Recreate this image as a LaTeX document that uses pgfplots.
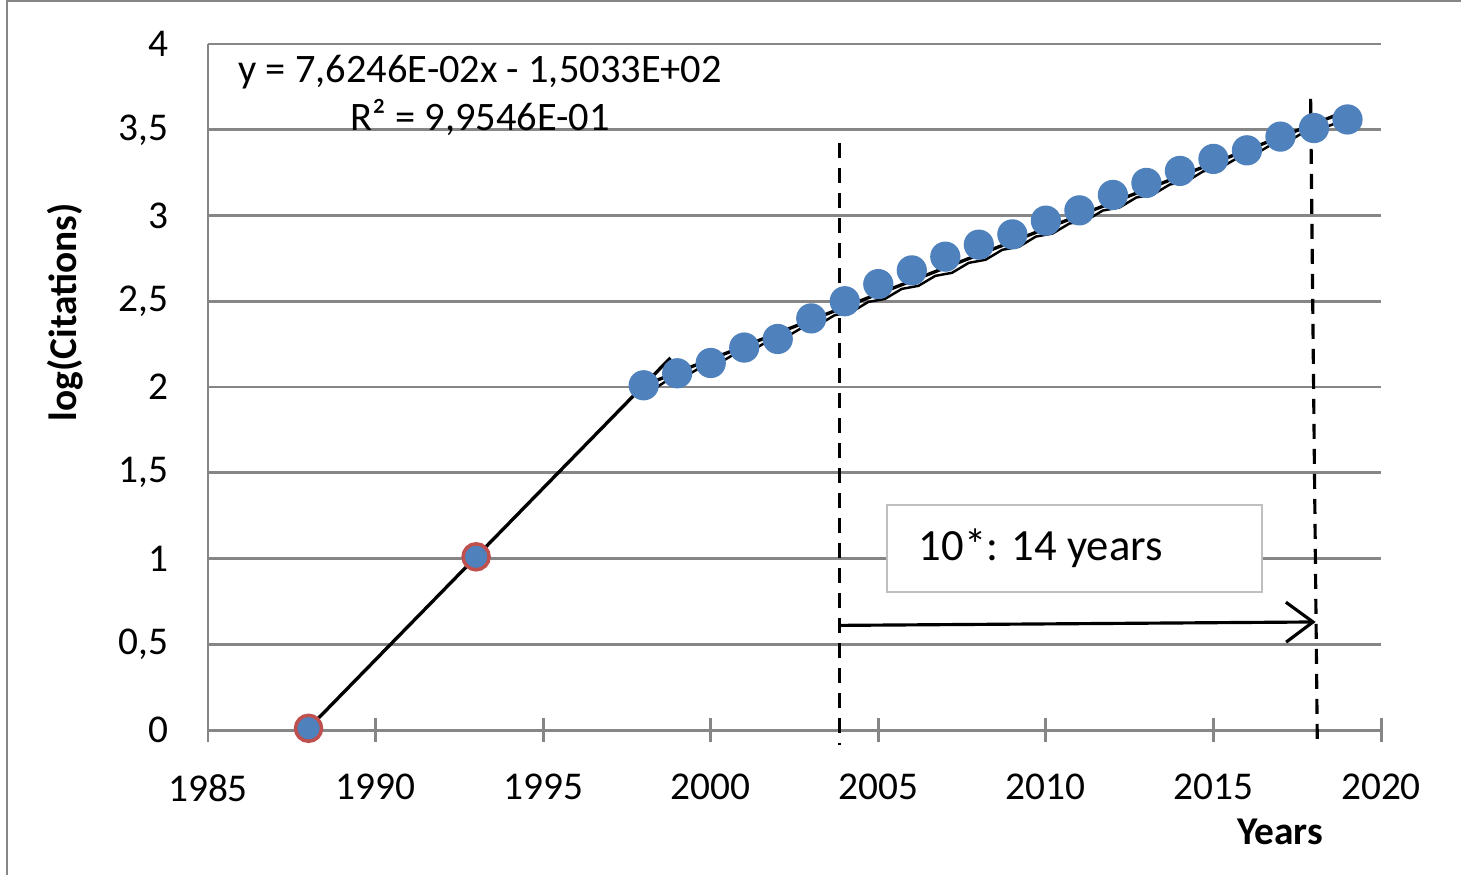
\documentclass[border=0pt]{standalone}
\usepackage{fontspec}
\setmainfont{Carlito}
\usepackage{pgfplots}
\pgfplotsset{compat=1.18}
\usetikzlibrary{arrows.meta}
\definecolor{xlblue}{HTML}{4F81BD}
\definecolor{xlred}{HTML}{C0504D}
\definecolor{gridgray}{HTML}{868686}
\definecolor{boxgray}{HTML}{BFBFBF}
\begin{document}
\begin{tikzpicture}
\useasboundingbox (-20.8mm,-14.4mm) rectangle (125.3mm,73.0mm);
\draw[gridgray, line width=0.2mm] (-20.1mm,-14.5mm) -- (-20.1mm,72.9mm) -- (125.4mm,72.9mm);
\begin{axis}[
  at={(0,0)}, anchor=south west,
  width=117.3mm, height=68.6mm, scale only axis,
  xmin=1985, xmax=2020, ymin=0, ymax=4,
  xtick={1985,1990,1995,2000,2005,2010,2015,2020},
  ytick={0,0.5,1,1.5,2,2.5,3,3.5,4},
  axis x line*=bottom, axis y line*=left,
  axis line style={gridgray, line width=0.85pt, -},
  ymajorgrids, grid style={gridgray, line width=0.85pt},
  tick align=center, major tick length=2.4mm,
  xtick style={gridgray, line width=0.85pt},
  ytick style={draw=none},
  /pgf/number format/.cd, use comma, 1000 sep={}, assume math mode=true,
  /pgfplots/.cd,
  tick label style={font=\fontsize{11.2}{13}\selectfont},
  yticklabel style={xshift=-1.5mm},
  xticklabel style={yshift=-2mm},
  xlabel={Years},
  xlabel style={at={(axis description cs:0.914,-0.1487)}, anchor=center, font=\fontsize{11.2}{13}\selectfont\bfseries},
  ylabel={log(Citations)},
  ylabel style={at={(axis description cs:-0.122,0.609)}, anchor=center, font=\fontsize{11.2}{13}\selectfont\bfseries},
  clip=false,
]
% box annotation
\draw[boxgray, line width=0.2mm, fill=white] (axis cs:2005.26,0.805) rectangle (axis cs:2016.45,1.312);
\node[anchor=west, inner sep=0pt, font=\fontsize{12.7}{15}\selectfont] at (axis cs:2006.19,1.06) {10*: 14 years};
% data
\addplot[only marks, mark=*, mark size=3.7pt, mark options={fill=xlblue, draw=xlred, line width=1pt}]
  coordinates {(1988,0.01) (1993,1.01)};
\addplot[only marks, mark=*, mark size=4.1pt, mark options={fill=xlblue, draw=xlblue}]
  coordinates {
  (1998,2.01) (1999,2.08) (2000,2.14) (2001,2.23) (2002,2.28) (2003,2.40)
  (2004,2.50) (2005,2.60) (2006,2.68) (2007,2.76) (2008,2.83) (2009,2.89)
  (2010,2.97) (2011,3.03) (2012,3.12) (2013,3.19) (2014,3.26) (2015,3.33)
  (2016,3.38) (2017,3.46) (2018,3.51) (2019,3.56)};
% lines
\addplot[black, line width=0.95pt] coordinates {(1988,0.01) (1998.8,2.17)};
\addplot[black, line width=0.95pt] coordinates {(1998,2.0095) (2019,3.6107)};
\addplot[black, line width=0.7pt] coordinates {
  (1998.2,1.975) (1998.7,2.038) (1999.2,2.056) (1999.7,2.115) (2000.2,2.133) (2000.7,2.191)
  (2001.2,2.209) (2001.7,2.267) (2002.2,2.285) (2002.7,2.343) (2003.2,2.361) (2003.7,2.419)
  (2004.2,2.437) (2004.7,2.496) (2005.2,2.514) (2005.7,2.572) (2006.2,2.590) (2006.7,2.648)
  (2007.2,2.666) (2007.7,2.724) (2008.2,2.742) (2008.7,2.800) (2009.2,2.818) (2009.7,2.877)
  (2010.2,2.895) (2010.7,2.953) (2011.2,2.971) (2011.7,3.029) (2012.2,3.047) (2012.7,3.105)
  (2013.2,3.123) (2013.7,3.181) (2014.2,3.199) (2014.7,3.258) (2015.2,3.276) (2015.7,3.334)
  (2016.2,3.352) (2016.7,3.410) (2017.2,3.428) (2017.7,3.486) (2018.2,3.504) (2018.7,3.542)
  (2019.0,3.560)};
\addplot[black, line width=0.9pt, dash pattern=on 1.5mm off 1mm] coordinates {(2003.85,3.42) (2003.85,-0.09)};
\addplot[black, line width=0.9pt, dash pattern=on 1.5mm off 1mm] coordinates {(2017.9,3.68) (2018.1,-0.09)};
\addplot[black, line width=0.9pt, -{Straight Barb[length=2.7mm, width=4mm]}] coordinates {(2003.85,0.61) (2018.05,0.63)};
% equation
\node[align=center, font=\fontsize{11.5}{13.8}\selectfont] at (axis cs:1993.12,3.70) {y = 7,6246E-02x - 1,5033E+02\\R² = 9,9546E-01};
\end{axis}
\end{tikzpicture}
\end{document}
